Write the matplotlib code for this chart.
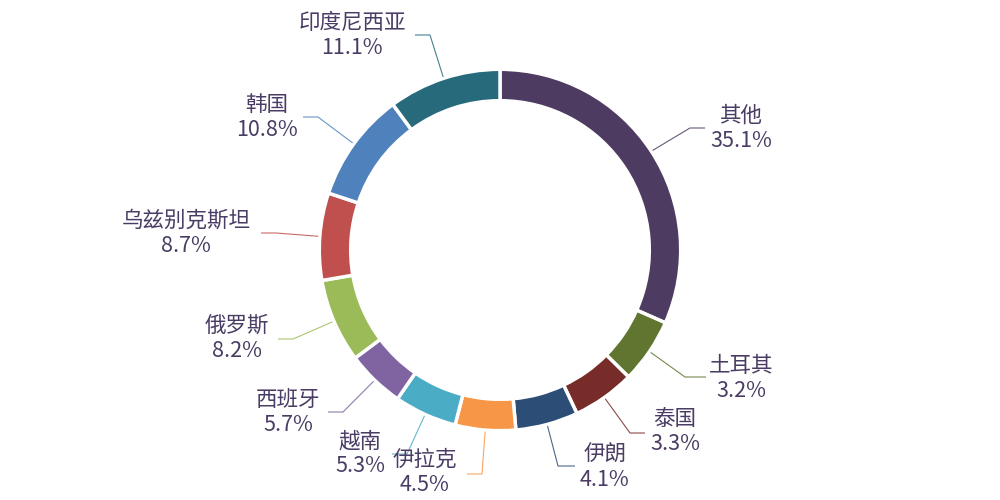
import numpy as np
import matplotlib
matplotlib.use("Agg")
import matplotlib.pyplot as plt

plt.rcParams['font.family'] = ['Noto Sans CJK SC', 'DejaVu Sans']

# countries, clockwise from 12 o'clock
names = ['其他', '土耳其', '泰国', '伊朗', '伊拉克', '越南', '西班牙',
         '俄罗斯', '乌兹别克斯坦', '韩国', '印度尼西亚']
# printed shares
labels_pct = ['35.1%', '3.2%', '3.3%', '4.1%', '4.5%', '5.3%', '5.7%',
              '8.2%', '8.7%', '10.8%', '11.1%']
# slice sizes as drawn in the ring (%)
slice_sizes = [31.6, 5.8, 5.6, 5.6, 5.4, 5.6, 5.2, 7.5, 7.8, 9.8, 10.1]

colors = ['#4e3b62', '#5f7530', '#772c2a', '#2c4d75', '#f79646', '#4bacc6',
          '#8064a2', '#9bbb59', '#c0504d', '#4f81bd', '#276a7c']

# label layout in pixels: text centre (name line), leader elbow, leader end
text_pos = [(741, 116), (741, 366), (675, 419), (605, 455), (425, 460),
            (360, 441), (288, 400), (237, 326), (186, 221), (267, 105),
            (352, 23)]
elbows = [(690, 128), (685, 377), (630, 433), (558, 466), (482, 474),
          (407, 454), (343, 412), (293, 339), (276, 233), (318, 117),
          (430, 35)]
ends = [(705, 128), (706, 377), (645, 433), (575, 466), (467, 474),
        (392, 454), (328, 412), (278, 339), (261, 233), (303, 117),
        (415, 35)]

W, H = 1000, 500
cx, cy = 500, 250
R = 180.7

fig = plt.figure(figsize=(10, 5), dpi=100)
ax = fig.add_axes([0, 0, 1, 1])

def px(x, y):
    return x, H - y

wedges, _ = ax.pie(slice_sizes, colors=colors, radius=R, center=px(cx, cy),
                   startangle=90, counterclock=False,
                   wedgeprops=dict(width=31.4, edgecolor='white', linewidth=2.5))
ax.set_xlim(0, W)
ax.set_ylim(0, H)
ax.set_aspect('equal')
ax.axis('off')

txt_color = '#4a3c64'
for w, name, pct, col, tp, el, en in zip(wedges, names, labels_pct, colors,
                                         text_pos, elbows, ends):
    mid = np.deg2rad((w.theta1 + w.theta2) / 2)
    sx = cx + (R + 1.5) * np.cos(mid)
    sy = cy - (R + 1.5) * np.sin(mid)
    xs, ys = zip(px(sx, sy), px(*el), px(*en))
    ax.plot(xs, ys, color=col, lw=0.8, alpha=0.85, solid_capstyle='butt')
    ax.text(*px(tp[0], tp[1]), name, ha='center', va='center',
            fontsize=15.5, color=txt_color)
    ax.text(*px(tp[0], tp[1] + 25), pct, ha='center', va='center',
            fontsize=15.5, color=txt_color)

fig.savefig('out.png', dpi=100, facecolor='white')
